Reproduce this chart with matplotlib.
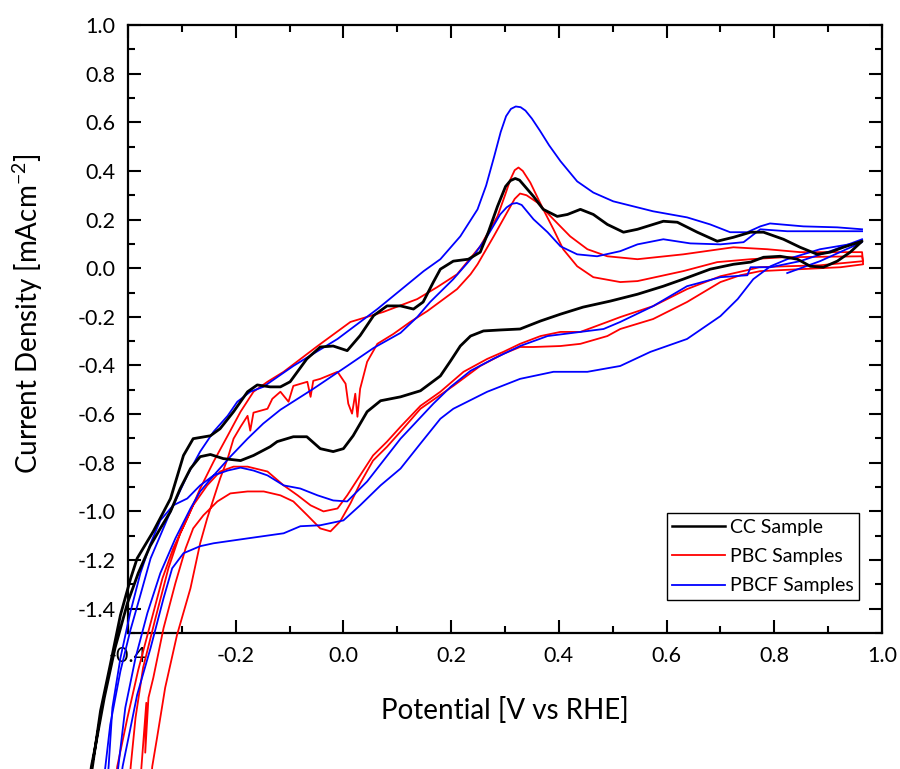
import matplotlib
matplotlib.use("Agg")
import matplotlib.pyplot as plt
from matplotlib.lines import Line2D
from matplotlib.ticker import MultipleLocator

plt.rcParams['font.family'] = ['Lato', 'DejaVu Sans']
plt.rcParams['axes.unicode_minus'] = False
plt.rcParams['mathtext.default'] = 'regular'

# ---------------- data (potential V vs RHE, current density mA cm^-2) ----------------
cc_x = [-0.477, -0.466, -0.451, -0.433, -0.414, -0.395, -0.383, -0.353, -0.321, -0.297, -0.279, -0.247, -0.229,
        -0.204, -0.178, -0.160, -0.136, -0.117, -0.099, -0.068, -0.043, -0.019, 0.007, 0.031, 0.056, 0.081,
        0.106, 0.130, 0.148, 0.167, 0.180, 0.204, 0.232, 0.254, 0.269, 0.286, 0.301, 0.310, 0.319, 0.327,
        0.334, 0.353,
        0.371, 0.397, 0.416, 0.440, 0.464, 0.490, 0.520, 0.546, 0.594, 0.620, 0.657, 0.694, 0.724, 0.756,
        0.780, 0.817, 0.848, 0.880, 0.904, 0.928, 0.963,
        0.941, 0.917, 0.891, 0.867, 0.843, 0.811, 0.780, 0.756, 0.724, 0.681, 0.631, 0.594, 0.546, 0.496,
        0.445, 0.403, 0.366, 0.328, 0.291, 0.260, 0.236, 0.217, 0.199, 0.180, 0.143, 0.106, 0.069, 0.044,
        0.018, 0.000, -0.019, -0.043, -0.068, -0.093, -0.123, -0.136, -0.167, -0.191, -0.223, -0.247,
        -0.266, -0.284, -0.303, -0.321, -0.340, -0.359, -0.381, -0.401, -0.424, -0.444, -0.461, -0.468,
        -0.476]
cc_y = [-2.200, -2.049, -1.820, -1.631, -1.426, -1.275, -1.193, -1.082, -0.947, -0.770, -0.701, -0.689, -0.660,
        -0.590, -0.508, -0.480, -0.488, -0.488, -0.467, -0.373, -0.324, -0.320, -0.339, -0.277, -0.195, -0.155,
        -0.155, -0.168, -0.139, -0.057, -0.004, 0.029, 0.037, 0.066, 0.148, 0.254, 0.336, 0.360, 0.369, 0.362,
        0.344, 0.295,
        0.242, 0.213, 0.221, 0.242, 0.221, 0.180, 0.148, 0.160, 0.193, 0.189, 0.148, 0.111, 0.127, 0.148,
        0.148, 0.119, 0.086, 0.057, 0.066, 0.086, 0.111,
        0.066, 0.029, 0.004, 0.008, 0.037, 0.049, 0.045, 0.025, 0.016, -0.004, -0.045, -0.074, -0.107, -0.135,
        -0.160, -0.189, -0.217, -0.250, -0.254, -0.258, -0.279, -0.320, -0.381, -0.443, -0.504, -0.529, -0.545,
        -0.590, -0.689, -0.742, -0.754, -0.742, -0.693, -0.693, -0.713, -0.734, -0.770, -0.791, -0.783, -0.766,
        -0.775, -0.824, -0.906, -1.000, -1.070, -1.143, -1.254, -1.377, -1.561, -1.766, -1.971, -2.049,
        -2.200]

pbc_a_x = [-0.428, -0.420, -0.401, -0.381, -0.358, -0.336, -0.316, -0.290, -0.266, -0.241, -0.215, -0.191,
           -0.167, -0.141, -0.111, -0.048, 0.013, 0.074, 0.137, 0.174, 0.211, 0.254, 0.286, 0.300, 0.310,
           0.318, 0.325, 0.333, 0.347, 0.371, 0.390, 0.408, 0.434, 0.464, 0.514, 0.546, 0.631, 0.694, 0.756,
           0.817, 0.963,
           0.965, 0.885, 0.823, 0.772, 0.750, 0.700, 0.638, 0.575, 0.514, 0.490, 0.440, 0.403, 0.366, 0.328,
           0.297, 0.267, 0.223, 0.180, 0.143, 0.106, 0.081, 0.055, 0.031, 0.007, -0.011, -0.037, -0.061,
           -0.085, -0.111, -0.141, -0.178, -0.204, -0.229, -0.253, -0.279, -0.303, -0.325, -0.349, -0.372,
           -0.386, -0.395, -0.400]
pbc_a_y = [-2.200, -2.049, -1.848, -1.652, -1.459, -1.275, -1.152, -1.029, -0.906, -0.795, -0.689, -0.590,
           -0.508, -0.467, -0.426, -0.320, -0.221, -0.180, -0.127, -0.078, -0.025, 0.090, 0.213, 0.300, 0.365,
           0.403, 0.414, 0.400, 0.352, 0.242, 0.160, 0.078, 0.008, -0.037, -0.057, -0.053, -0.012, 0.025, 0.037,
           0.045, 0.049,
           0.029, 0.012, 0.008, 0.004, -0.008, -0.033, -0.086, -0.156, -0.201, -0.221, -0.262, -0.262, -0.279,
           -0.311, -0.344, -0.373, -0.426, -0.508, -0.566, -0.652, -0.713, -0.770, -0.852, -0.934, -0.988,
           -1.000, -0.975, -0.934, -0.893, -0.836, -0.816, -0.816, -0.836, -0.893, -0.975, -1.090, -1.234,
           -1.439, -1.643, -1.848, -2.049, -2.200]

pbc_b_x = [-0.360, -0.355, -0.346, -0.331, -0.309, -0.284, -0.266, -0.253, -0.241, -0.229, -0.215, -0.204,
           -0.191, -0.178, -0.173, -0.167, -0.141, -0.132, -0.117, -0.102, -0.093, -0.067, -0.061, -0.056,
           -0.043, -0.011, 0.004, 0.009, 0.016, 0.022, 0.026, 0.031, 0.044, 0.063, 0.093, 0.124, 0.156,
           0.186, 0.211, 0.236, 0.249, 0.279, 0.304, 0.318, 0.328, 0.340, 0.360, 0.390, 0.421, 0.453, 0.490,
           0.546, 0.631, 0.724, 0.787, 0.848, 0.963,
           0.965, 0.923, 0.848, 0.774, 0.737, 0.700, 0.638, 0.575, 0.514, 0.490, 0.440, 0.403, 0.353, 0.328,
           0.297, 0.254, 0.204, 0.143, 0.106, 0.081, 0.055, 0.031, 0.013, -0.006, -0.024, -0.043, -0.067,
           -0.093, -0.117, -0.148, -0.178, -0.210, -0.234, -0.260, -0.279, -0.293, -0.312, -0.334, -0.353,
           -0.362, -0.368, -0.366, -0.375, -0.380]
pbc_b_y = [-2.200, -2.049, -1.930, -1.725, -1.508, -1.316, -1.131, -1.029, -0.947, -0.865, -0.783, -0.701,
           -0.652, -0.607, -0.668, -0.594, -0.578, -0.537, -0.508, -0.549, -0.484, -0.467, -0.529, -0.463,
           -0.455, -0.426, -0.475, -0.557, -0.598, -0.516, -0.611, -0.496, -0.385, -0.311, -0.270, -0.221,
           -0.176, -0.127, -0.086, -0.025, 0.016, 0.131, 0.230, 0.285, 0.307, 0.300, 0.270, 0.201, 0.131,
           0.078, 0.049, 0.037, 0.057, 0.086, 0.078, 0.066, 0.066,
           0.016, 0.004, -0.004, -0.012, -0.029, -0.057, -0.139, -0.209, -0.250, -0.279, -0.311, -0.320,
           -0.324, -0.324, -0.352, -0.402, -0.484, -0.578, -0.672, -0.734, -0.791, -0.885, -0.967, -1.041,
           -1.082, -1.070, -1.016, -0.959, -0.934, -0.918, -0.918, -0.926, -0.959, -1.016, -1.070, -1.152,
           -1.295, -1.480, -1.684, -1.766, -1.992, -1.787, -2.049, -2.200]

pbcf_a_x = [0.824, 0.885, 0.963, 0.885, 0.824, 0.793, 0.761, 0.732, 0.700, 0.638, 0.570, 0.514, 0.453,
            0.390, 0.328, 0.267, 0.204, 0.180, 0.143, 0.106, 0.069, 0.031, 0.000, -0.043, -0.080, -0.111,
            -0.178, -0.241, -0.266, -0.297, -0.318, -0.334, -0.358, -0.383, -0.399, -0.410, -0.419,
            -0.450, -0.442, -0.433, -0.414, -0.396, -0.377, -0.358, -0.321, -0.290, -0.266, -0.241, -0.215,
            -0.197, -0.173, -0.149, -0.093, -0.011, 0.063, 0.149, 0.180, 0.217, 0.249, 0.265, 0.280, 0.292,
            0.302, 0.311, 0.320, 0.329, 0.338, 0.350, 0.365, 0.382, 0.403, 0.434, 0.464, 0.501, 0.575, 0.638,
            0.681, 0.718, 0.750, 0.774, 0.792, 0.854, 0.917, 0.963]
pbcf_a_y = [-0.020, 0.029, 0.107, 0.078, 0.037, 0.008, -0.045, -0.127, -0.197, -0.291, -0.344, -0.402, -0.426,
            -0.426, -0.455, -0.508, -0.578, -0.619, -0.721, -0.824, -0.893, -0.975, -1.037, -1.057, -1.061,
            -1.090, -1.111, -1.131, -1.143, -1.172, -1.234, -1.357, -1.561, -1.754, -1.930, -2.049, -2.200,
            -2.200, -2.049, -1.877, -1.656, -1.492, -1.344, -1.193, -1.000, -0.852, -0.754, -0.672, -0.607,
            -0.549, -0.508, -0.488, -0.402, -0.291, -0.168, -0.012, 0.037, 0.131, 0.242, 0.340, 0.460, 0.560,
            0.625, 0.655, 0.665, 0.662, 0.648, 0.615, 0.565, 0.505, 0.440, 0.357, 0.311, 0.275, 0.234, 0.209,
            0.180, 0.148, 0.148, 0.172, 0.184, 0.172, 0.168, 0.160]

pbcf_b_x = [0.963, 0.904, 0.848, 0.793, 0.756, 0.750, 0.700, 0.638, 0.575, 0.514, 0.483, 0.440, 0.379,
            0.328, 0.278, 0.236, 0.199, 0.167, 0.106, 0.044, 0.007, -0.019, -0.048, -0.080, -0.111, -0.141,
            -0.167, -0.191, -0.215, -0.241, -0.266, -0.290, -0.316, -0.340, -0.358, -0.377, -0.396, -0.414,
            -0.429, -0.436, -0.442,
            -0.425, -0.418, -0.405, -0.386, -0.364, -0.340, -0.312, -0.284, -0.266, -0.241, -0.210, -0.178,
            -0.149, -0.117, -0.056, 0.007, 0.056, 0.106, 0.137, 0.161, 0.204, 0.241, 0.267, 0.291, 0.303,
            0.313, 0.322, 0.331, 0.353, 0.379, 0.403, 0.434, 0.471, 0.514, 0.546, 0.594, 0.644, 0.700, 0.743,
            0.774, 0.824, 0.885, 0.963]
pbcf_b_y = [0.119, 0.070, 0.029, 0.004, 0.004, -0.029, -0.037, -0.074, -0.156, -0.221, -0.250, -0.262, -0.279,
            -0.320, -0.373, -0.422, -0.488, -0.557, -0.701, -0.877, -0.959, -0.955, -0.934, -0.906, -0.893,
            -0.852, -0.832, -0.820, -0.832, -0.852, -0.893, -0.947, -0.975, -1.037, -1.131, -1.254, -1.418,
            -1.602, -1.807, -2.049, -2.200,
            -2.200, -2.049, -1.807, -1.602, -1.418, -1.254, -1.111, -0.988, -0.918, -0.852, -0.775, -0.701,
            -0.639, -0.582, -0.496, -0.402, -0.328, -0.266, -0.201, -0.139, -0.045, 0.049, 0.131, 0.221, 0.250,
            0.265, 0.268, 0.260, 0.201, 0.148, 0.090, 0.057, 0.049, 0.070, 0.098, 0.119, 0.102, 0.098, 0.107,
            0.160, 0.152, 0.152, 0.152]

legend_labels = ["CC Sample", "PBC Samples", "PBCF Samples"]
x_ticks = [-0.4, -0.2, 0.0, 0.2, 0.4, 0.6, 0.8, 1.0]
y_ticks = [-1.4, -1.2, -1.0, -0.8, -0.6, -0.4, -0.2, 0.0, 0.2, 0.4, 0.6, 0.8, 1.0]

RED = '#ff0000'
BLUE = '#0000ff'
BLACK = '#000000'

fig = plt.figure(figsize=(9.0, 7.69), dpi=100)
ax = fig.add_axes([128 / 900, 136 / 769, 754 / 900, 608 / 769])

for xs, ys in [(pbc_a_x, pbc_a_y), (pbc_b_x, pbc_b_y)]:
    ax.plot(xs, ys, color=RED, lw=1.3, clip_on=False, zorder=3, solid_joinstyle='round')
for xs, ys in [(pbcf_a_x, pbcf_a_y), (pbcf_b_x, pbcf_b_y)]:
    ax.plot(xs, ys, color=BLUE, lw=1.3, clip_on=False, zorder=3.2, solid_joinstyle='round')
ax.plot(cc_x, cc_y, color=BLACK, lw=2.0, clip_on=False, zorder=3.4, solid_joinstyle='round')

ax.set_xlim(-0.4, 1.0)
ax.set_ylim(-1.5, 1.0)
ax.set_xticks(x_ticks)
ax.set_yticks(y_ticks)
ax.set_xticklabels([f"{v:.1f}" for v in x_ticks])
ax.set_yticklabels([f"{v:.1f}" for v in y_ticks])
ax.xaxis.set_minor_locator(MultipleLocator(0.1))
ax.yaxis.set_minor_locator(MultipleLocator(0.1))
ax.tick_params(which='both', direction='in', top=True, right=True, width=1.5, colors='black')
ax.tick_params(which='major', length=9.5, labelsize=15.5, pad=9)
ax.tick_params(which='minor', length=5)
for s in ax.spines.values():
    s.set_linewidth(1.6)

ax.set_xlabel("Potential [V vs RHE]", fontsize=20)
ax.set_ylabel("Current Density [mAcm$^{-2}$]", fontsize=20)
ax.xaxis.set_label_coords(0.5, -0.105)
ax.yaxis.set_label_coords(-0.11, 0.525)

handles = [Line2D([], [], color=BLACK, lw=1.8), Line2D([], [], color=RED, lw=1.3),
           Line2D([], [], color=BLUE, lw=1.3)]
leg = ax.legend(handles, legend_labels, loc='lower right', bbox_to_anchor=(0.97, 0.054),
                fontsize=14, frameon=True, fancybox=False, edgecolor='black', framealpha=1,
                handlelength=2.7, handletextpad=0.25, borderpad=0.3, labelspacing=0.62,
                borderaxespad=0.0)
leg.get_frame().set_linewidth(1.0)

fig.savefig("out.png", dpi=100)
